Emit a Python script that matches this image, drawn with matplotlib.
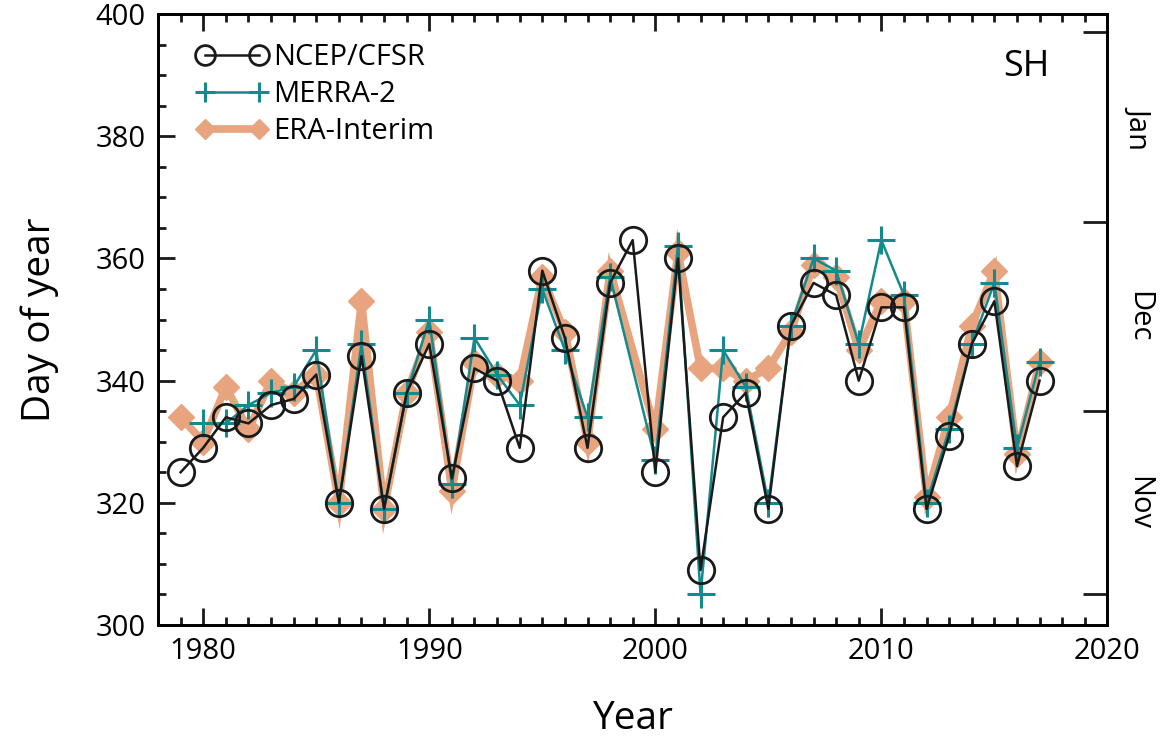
import numpy as np
import matplotlib.pyplot as plt
from matplotlib.ticker import MultipleLocator, FixedLocator

plt.rcParams['font.family'] = ['Open Sans', 'DejaVu Sans']

# NCEP/CFSR, 1979-2017
ncep_years = list(range(1979, 2018))
ncep = [325, 329, 334, 333, 336, 337, 341, 320, 344, 319,
        338, 346, 324, 342, 340, 329, 358, 347, 329, 356,
        363, 325, 360, 309, 334, 338, 319, 349, 356, 354,
        340, 352, 352, 319, 331, 346, 353, 326, 340]

# MERRA-2, 1980-2017 (no 1999)
merra_years = [y for y in range(1980, 2018) if y != 1999]
merra = [333, 333, 336, 338, 339, 345, 320, 346, 319,
         338, 350, 323, 347, 341, 336, 355, 345, 334, 357,
         327, 362, 305, 345, 339, 320, 349, 360, 358,
         346, 363, 354, 320, 332, 346, 356, 329, 343]

# ERA-Interim, 1979-2017 (no 1999)
era_years = [y for y in range(1979, 2018) if y != 1999]
era = [334, 330, 339, 332, 340, 338, 341, 320, 353, 319,
       338, 348, 322, 343, 341, 340, 357, 348, 330, 358,
       332, 361, 342, 342, 340, 342, 348, 359, 357,
       345, 353, 353, 321, 334, 349, 358, 328, 343]

month_ticks = [305, 335, 366, 397]
month_labels = ['Nov', 'Dec', 'Jan']

fig = plt.figure(figsize=(11.62, 7.44), dpi=100)
ax = fig.add_axes([0.136, 0.16, 0.817, 0.821])

ax.plot(era_years, era, color='#E8A47E', lw=5.5, marker='D', ms=13,
        mec='#E8A47E', mfc='#E8A47E', label='ERA-Interim', zorder=1,
        solid_joinstyle='miter')
ax.plot(merra_years, merra, color='#138A8E', lw=1.8, marker='+', ms=20,
        mew=2.2, label='MERRA-2', zorder=2)
ax.plot(ncep_years, ncep, color='#1a1a1a', lw=1.8, marker='o', ms=19,
        mew=2.0, mfc='none', mec='#1a1a1a', label='NCEP/CFSR', zorder=3)

ax.set_xlim(1978, 2020)
ax.set_ylim(300, 400)
ax.xaxis.set_major_locator(MultipleLocator(10))
ax.xaxis.set_minor_locator(MultipleLocator(1))
ax.yaxis.set_major_locator(MultipleLocator(20))
ax.yaxis.set_minor_locator(MultipleLocator(5))
ax.tick_params(which='both', direction='in', top=True, right=False,
               width=2, labelsize=21, color='#1a1a1a')
ax.tick_params(which='major', length=12, pad=9)
ax.tick_params(which='minor', length=6)
for s in ax.spines.values():
    s.set_linewidth(2)
    s.set_color('#1a1a1a')

ax.set_xlabel('Year', fontsize=28, labelpad=24)
ax.set_ylabel('Day of year', fontsize=28, labelpad=26)

ax2 = ax.twinx()
ax2.set_ylim(300, 400)
ax2.yaxis.set_major_locator(FixedLocator(month_ticks))
ax2.yaxis.set_minor_locator(FixedLocator([(month_ticks[i] + month_ticks[i + 1]) / 2
                                          for i in range(3)]))
ax2.set_yticklabels([])
ax2.set_yticklabels(month_labels, minor=True, rotation=-90, va='center', fontsize=21)
ax2.tick_params(which='major', direction='in', length=17, width=2, color='#1a1a1a')
ax2.tick_params(which='minor', length=0, pad=12)
for s in ax2.spines.values():
    s.set_linewidth(2)

handles, labels = ax.get_legend_handles_labels()
ax.legend(handles[::-1], labels[::-1], loc='upper left', frameon=False,
          numpoints=2, handlelength=2.43, fontsize=21, labelspacing=0.27,
          handletextpad=0.18, borderaxespad=0.5, markerscale=0.75,
          bbox_to_anchor=(0.013, 0.995))

ax.text(0.915, 0.913, 'SH', transform=ax.transAxes, fontsize=26,
        ha='center', va='center')

fig.savefig('out.png', dpi=100)
